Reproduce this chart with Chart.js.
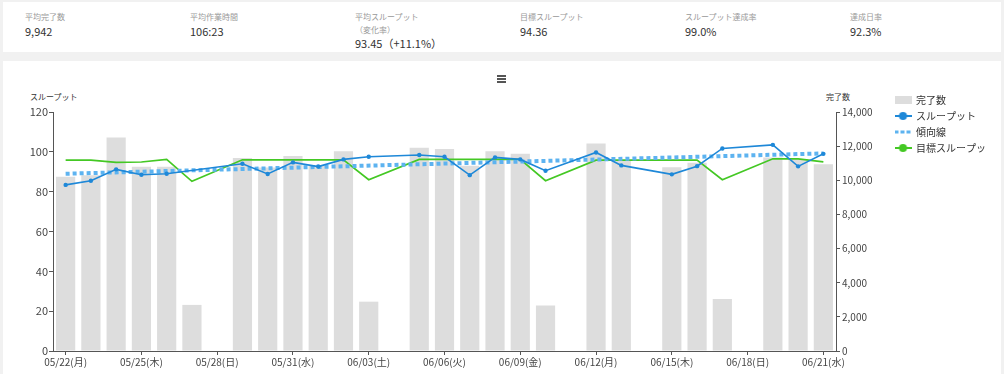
<!DOCTYPE html>
<html lang="ja">
<head>
<meta charset="utf-8">
<script src="https://cdn.jsdelivr.net/npm/chart.js@4.4.0/dist/chart.umd.min.js"></script>
<style>
  body { margin: 0; background: #f1f1f1; font-family: "Noto Sans CJK JP", "Noto Sans", sans-serif; }
  #head { position: absolute; left: 3px; top: 2px; width: 998px; height: 50px; background: #fff; }
  #panel { position: absolute; left: 3px; top: 61px; width: 998px; height: 313px; background: #fff; }
  .stat { position: absolute; top: 11px; }
  .lbl { font-size: 8px; color: #999; line-height: 12px; white-space: nowrap; }
  .val { font-size: 11px; color: #333; line-height: 14px; margin-top: 1px; white-space: nowrap; }
  .axt { position: absolute; top: 91px; font-size: 8px; color: #333; line-height: 12px; }
  #menu { position: absolute; left: 497px; top: 75px; width: 9px; }
  #menu div { height: 1.5px; background: #555; margin-bottom: 1.5px; }
  #wrap { position: absolute; left: 0; top: 60px; width: 1004px; height: 314px; }
</style>
</head>
<body>
<div id="head"></div>
<div id="panel"></div>

<div class="stat" style="left:25px"><div class="lbl">平均完了数</div><div class="val">9,942</div></div>
<div class="stat" style="left:190px"><div class="lbl">平均作業時間</div><div class="val">106:23</div></div>
<div class="stat" style="left:355px"><div class="lbl">平均スループット</div><div class="lbl" style="margin-top:1px">（変化率）</div><div class="val" style="margin-top:0">93.45（+11.1%）</div></div>
<div class="stat" style="left:520px"><div class="lbl">目標スループット</div><div class="val">94.36</div></div>
<div class="stat" style="left:685px"><div class="lbl">スループット達成率</div><div class="val">99.0%</div></div>
<div class="stat" style="left:850px"><div class="lbl">達成日率</div><div class="val">92.3%</div></div>

<div id="menu"><div></div><div></div><div></div></div>
<div class="axt" style="left:30px">スループット</div>
<div class="axt" style="left:826px">完了数</div>

<div id="wrap"><canvas id="chart" width="1004" height="314"></canvas></div>

<script>
const categories = [
  '05/22(月)', '05/23(火)', '05/24(水)', '05/25(木)', '05/26(金)', '05/27(土)', '05/28(日)',
  '05/29(月)', '05/30(火)', '05/31(水)', '06/01(木)', '06/02(金)', '06/03(土)', '06/04(日)',
  '06/05(月)', '06/06(火)', '06/07(水)', '06/08(木)', '06/09(金)', '06/10(土)', '06/11(日)',
  '06/12(月)', '06/13(火)', '06/14(水)', '06/15(木)', '06/16(金)', '06/17(土)', '06/18(日)',
  '06/19(月)', '06/20(火)', '06/21(水)'
];

// 完了数 (right axis)
const completed = [
  10200, 10300, 12500, 10800, 10800, 2700, 0,
  11300, 10750, 11420, 10850, 11700, 2890, 0,
  11900, 11830, 10850, 11700, 11550, 2660, 0,
  12160, 11190, 0, 10770, 11020, 3050, 0,
  11330, 11250, 10940
];

// スループット (left axis)
const throughput = [
  83.4, 85.5, 91.2, 88.5, 89.0, null, null,
  94.0, 88.9, 94.7, 92.6, 96.2, 97.5, null,
  98.4, 97.5, 88.3, 97.2, 96.2, 90.5, null,
  99.7, 93.2, null, 88.7, 92.8, 101.7, null,
  103.5, 92.7, 99.0
];

// 目標スループット (left axis)
const target = [
  95.8, 95.8, 94.7, 94.9, 96.2, 85.2, null,
  96.0, 96.0, 96.0, 96.0, 96.0, 86.0, null,
  96.2, 96.2, 96.2, 96.2, 96.2, 85.5, null,
  95.8, 95.8, null, 95.8, 95.8, 86.0, null,
  96.5, 96.5, 95.0
];

// 傾向線: first and last value of the trend
const trendEnds = [89.0, 99.2];

const leftAxis = { min: 0, max: 120, step: 20 };
const rightAxis = { min: 0, max: 14000, step: 2000 };

const colBar = '#dddddd';
const colThru = '#1e88d8';
const colTrend = '#5db3f0';
const colTarget = '#44c824';

const trend = categories.map((c, i) =>
  i === 0 ? trendEnds[0] : (i === categories.length - 1 ? trendEnds[1] : null));

function makeIcon(kind, color) {
  const c = document.createElement('canvas');
  c.width = 17; c.height = 10;
  const g = c.getContext('2d');
  g.fillStyle = color;
  g.strokeStyle = color;
  if (kind === 'bar') {
    g.fillRect(0, 1, 17, 8);
  } else if (kind === 'dash') {
    for (let x = 0; x < 17; x += 6) g.fillRect(x, 3.5, 4, 3);
  } else {
    g.lineWidth = 2;
    g.beginPath(); g.moveTo(0, 5); g.lineTo(17, 5); g.stroke();
    g.beginPath(); g.arc(8.5, 5, 4, 0, Math.PI * 2); g.fill();
  }
  return c;
}
const icons = [makeIcon('bar', colBar), makeIcon('line', colThru), makeIcon('dash', colTrend), makeIcon('line', colTarget)];

Chart.defaults.font.family = "'Noto Sans CJK JP', 'Noto Sans', sans-serif";
Chart.defaults.font.size = 10;
Chart.defaults.color = '#444';

new Chart(document.getElementById('chart').getContext('2d'), {
  type: 'bar',
  data: {
    labels: categories,
    datasets: [
      {
        label: '完了数',
        data: completed,
        yAxisID: 'y2',
        backgroundColor: colBar,
        barPercentage: 0.95,
        categoryPercentage: 0.8,
        order: 3
      },
      {
        type: 'line',
        label: 'スループット',
        data: throughput,
        yAxisID: 'y',
        borderColor: colThru,
        backgroundColor: colThru,
        borderWidth: 1.6,
        pointRadius: 2.2,
        pointBorderWidth: 0,
        spanGaps: true,
        order: 0
      },
      {
        type: 'line',
        label: '傾向線',
        data: trend,
        yAxisID: 'y',
        borderColor: colTrend,
        borderWidth: 4,
        borderDash: [4, 3],
        pointRadius: 0,
        spanGaps: true,
        order: 1
      },
      {
        type: 'line',
        label: '目標スループット',
        data: target,
        yAxisID: 'y',
        borderColor: colTarget,
        backgroundColor: colTarget,
        borderWidth: 1.7,
        pointRadius: 0,
        spanGaps: true,
        order: 2
      }
    ]
  },
  options: {
    responsive: false,
    animation: false,
    devicePixelRatio: 1,
    locale: 'en-US',
    layout: { padding: { top: 29, right: 15, bottom: 0, left: 0 } },
    plugins: {
      tooltip: { enabled: false },
      title: {
        display: true,
        text: '',
        font: { size: 10 },
        padding: { top: 0, bottom: 11 }
      },
      legend: {
        position: 'right',
        align: 'start',
        maxWidth: 100,
        labels: {
          usePointStyle: true,
          pointStyleWidth: 16,
          padding: 6,
          color: '#333',
          font: { size: 10 },
          generateLabels: chart => chart.data.datasets.map((ds, i) => ({
            text: ds.label,
            pointStyle: icons[i],
            datasetIndex: i,
            hidden: false,
            fontColor: '#333',
            lineWidth: 0,
            strokeStyle: 'rgba(0,0,0,0)',
            fillStyle: 'rgba(0,0,0,0)'
          }))
        }
      }
    },
    scales: {
      x: {
        offset: true,
        afterFit: s => { s.height = 23; },
        grid: {
          offset: false,
          drawOnChartArea: false,
          tickLength: 4,
          color: ctx => ctx.index % 3 === 0 ? '#555' : 'rgba(0,0,0,0)'
        },
        border: { color: '#555' },
        ticks: {
          autoSkip: false,
          maxRotation: 0,
          padding: 1,
          color: '#444',
          callback: (v, i) => i % 3 === 0 ? categories[i] : ''
        }
      },
      y: {
        position: 'left',
        min: leftAxis.min,
        max: leftAxis.max,
        afterFit: s => { s.width = 53; },
        grid: { drawOnChartArea: false, tickLength: 4, color: '#555' },
        border: { color: '#555' },
        ticks: { stepSize: leftAxis.step, padding: 1, color: '#444', font: { size: 11 } }
      },
      y2: {
        position: 'right',
        min: rightAxis.min,
        max: rightAxis.max,
        afterFit: s => { s.width = 53; },
        grid: { drawOnChartArea: false, tickLength: 4, color: '#555' },
        border: { color: '#555' },
        ticks: { stepSize: rightAxis.step, padding: 2, color: '#444', font: { size: 10 } }
      }
    }
  }
});
</script>
</body>
</html>
